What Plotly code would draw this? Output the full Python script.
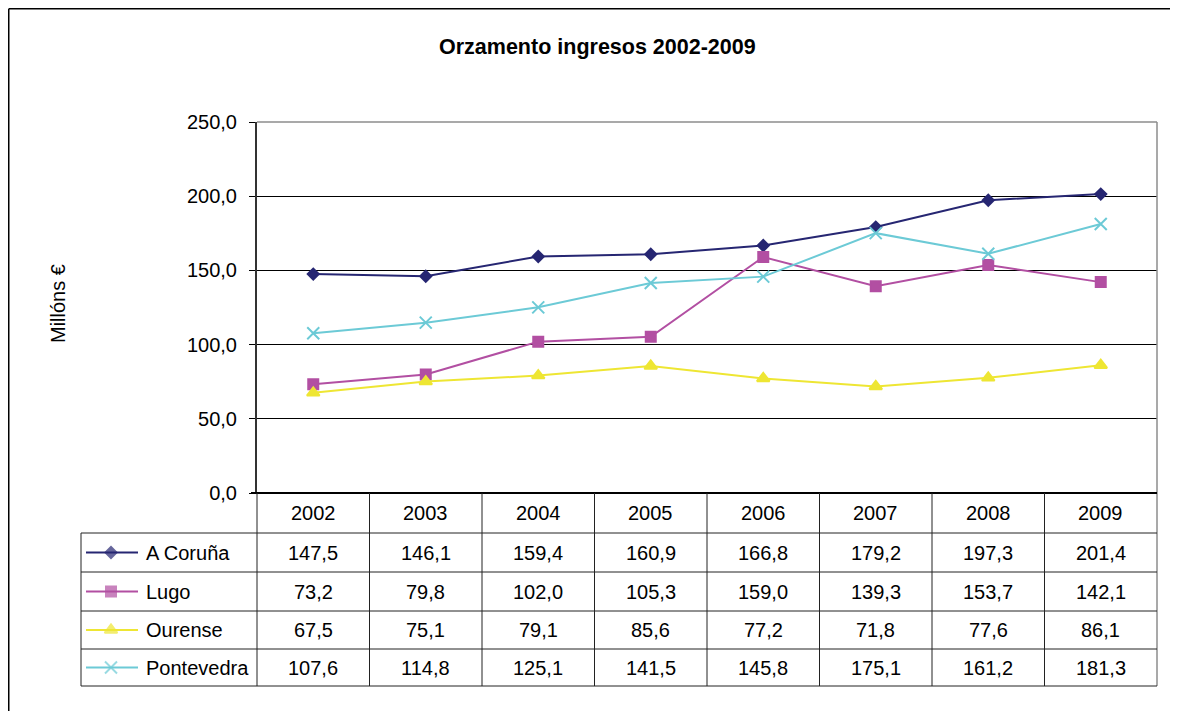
import plotly.graph_objects as go

years = ['2002', '2003', '2004', '2005', '2006', '2007', '2008', '2009']
coruna = [147.5, 146.1, 159.4, 160.9, 166.8, 179.2, 197.3, 201.4]
lugo = [73.2, 79.8, 102.0, 105.3, 159.0, 139.3, 153.7, 142.1]
ourense = [67.5, 75.1, 79.1, 85.6, 77.2, 71.8, 77.6, 86.1]
pontevedra = [107.6, 114.8, 125.1, 141.5, 145.8, 175.1, 161.2, 181.3]

series = [
    ('A Coruña', coruna, '#262672', 'diamond', 8.5),
    ('Lugo', lugo, '#B24FA2', 'square', 10),
    ('Ourense', ourense, '#EEE633', 'triangle-up', 11),
    ('Pontevedra', pontevedra, '#6CCAD6', 'x-thin-open', 12),
]

W, H = 1179, 711
OFF = 8  # page body margin, compensated so page pixels match
FONT = 'Liberation Sans, Arial, sans-serif'
FS = 20

# pixel layout (page coords) of the plot area / table
px_left, px_right, px_top, px_bottom = 257, 1157, 122, 493
row_edges = [493, 533, 572, 611, 649, 686]
label_left = 81
col_w = (px_right - px_left) / len(years)


def fx(px):
    return (px - OFF) / W


def fy(py):
    return 1 - (py - OFF) / H


def text_note(x, y, text, xanchor='center', **kw):
    return dict(x=x, y=y, xref='paper', yref='paper', text=text, showarrow=False,
                xanchor=xanchor, yanchor='middle',
                font=dict(size=FS, color='black', family=FONT), **kw)


fig = go.Figure()

for name, vals, color, symbol, size in series:
    fig.add_trace(go.Scatter(
        x=years, y=vals, mode='lines+markers', name=name,
        line=dict(color=color, width=2),
        marker=dict(symbol=symbol, size=size, color=color,
                    line=dict(color=color, width=2)),
        xaxis='x', yaxis='y', showlegend=False, cliponaxis=False
    ))

# legend samples inside the data table (pixel-coordinate overlay axes)
for i, (name, vals, color, symbol, size) in enumerate(series):
    yc = (row_edges[i + 1] + row_edges[i + 2]) / 2
    fig.add_trace(go.Scatter(
        x=[86, 111, 138], y=[yc, yc, yc], mode='lines+markers',
        line=dict(color=color, width=2),
        marker=dict(symbol=symbol, size=[0, size, 0], color=color,
                    line=dict(color=color, width=2)),
        xaxis='x2', yaxis='y2', showlegend=False, hoverinfo='skip'
    ))

shapes = []
annotations = []

# outer chart border (left and top edges visible)
shapes.append(dict(type='line', xref='paper', yref='paper', x0=fx(8.75), x1=fx(1170),
                   y0=fy(8.75), y1=fy(8.75), line=dict(color='black', width=1.5)))
shapes.append(dict(type='line', xref='paper', yref='paper', x0=fx(8.75), x1=fx(8.75),
                   y0=fy(8.75), y1=fy(740), line=dict(color='black', width=1.5)))
# plot area top/right border
shapes.append(dict(type='line', xref='paper', yref='paper', x0=fx(px_left), x1=fx(px_right),
                   y0=fy(px_top), y1=fy(px_top), line=dict(color='#8c8c8c', width=1.5)))
shapes.append(dict(type='line', xref='paper', yref='paper', x0=fx(px_right), x1=fx(px_right),
                   y0=fy(px_top), y1=fy(row_edges[-1]), line=dict(color='#8c8c8c', width=1.5)))
# category axis line
shapes.append(dict(type='line', xref='paper', yref='paper', x0=fx(251), x1=fx(px_right),
                   y0=fy(px_bottom), y1=fy(px_bottom), line=dict(color='black', width=2)))

# table grid
for k in range(len(years)):
    xk = px_left + k * col_w
    shapes.append(dict(type='line', xref='paper', yref='paper', x0=fx(xk), x1=fx(xk),
                       y0=fy(row_edges[0]), y1=fy(row_edges[-1]),
                       line=dict(color='#222222', width=1)))
shapes.append(dict(type='line', xref='paper', yref='paper', x0=fx(label_left), x1=fx(label_left),
                   y0=fy(row_edges[1]), y1=fy(row_edges[-1]), line=dict(color='#222222', width=1)))
for r in row_edges[1:]:
    shapes.append(dict(type='line', xref='paper', yref='paper', x0=fx(label_left), x1=fx(px_right),
                       y0=fy(r), y1=fy(r), line=dict(color='#222222', width=1)))

# header row
for k, yr in enumerate(years):
    annotations.append(text_note(fx(px_left + (k + 0.5) * col_w),
                                 fy((row_edges[0] + row_edges[1]) / 2), yr))

# value rows
for i, (name, vals, color, symbol, size) in enumerate(series):
    yc = fy((row_edges[i + 1] + row_edges[i + 2]) / 2)
    annotations.append(text_note(fx(144), yc, name, xanchor='left'))
    for k, v in enumerate(vals):
        annotations.append(text_note(fx(px_left + (k + 0.5) * col_w), yc,
                                     f'{v:.1f}'.replace('.', ',')))

# title and y-axis title
title = text_note(fx(597), fy(47), '<b>Orzamento ingresos 2002-2009</b>')
title['font']['size'] = 21.5
annotations.append(title)
annotations.append(text_note(fx(58), fy(304), 'Millóns €', textangle=-90))

fig.update_layout(
    width=W, height=H,
    margin=dict(l=0, r=0, t=0, b=0, pad=0),
    paper_bgcolor='white', plot_bgcolor='rgba(0,0,0,0)',
    separators=',.',
    font=dict(family=FONT, size=FS, color='black'),
    xaxis=dict(domain=[fx(px_left), fx(px_right)], type='category', range=[-0.5, 7.5],
               showticklabels=False, showgrid=False, showline=False, zeroline=False,
               anchor='y', fixedrange=True, automargin=False),
    yaxis=dict(domain=[fy(px_bottom), fy(px_top)], range=[0, 250], dtick=50,
               tickformat='.1f', showgrid=True, gridcolor='black', gridwidth=1,
               ticks='outside', ticklen=6, tickcolor='black', tickwidth=1,
               ticklabelstandoff=8,
               showline=True, linecolor='#333333', linewidth=2, zeroline=False,
               tickfont=dict(size=FS, color='black', family=FONT),
               anchor='x', fixedrange=True, automargin=False),
    xaxis2=dict(domain=[0, 1], range=[OFF, W + OFF], visible=False, showticklabels=False,
                showgrid=False, zeroline=False, anchor='y2', fixedrange=True, automargin=False),
    yaxis2=dict(domain=[0, 1], range=[H + OFF, OFF], visible=False, showticklabels=False,
                showgrid=False, zeroline=False, anchor='x2', fixedrange=True, automargin=False),
    shapes=shapes,
    annotations=annotations,
)

fig.write_html('out.html')
